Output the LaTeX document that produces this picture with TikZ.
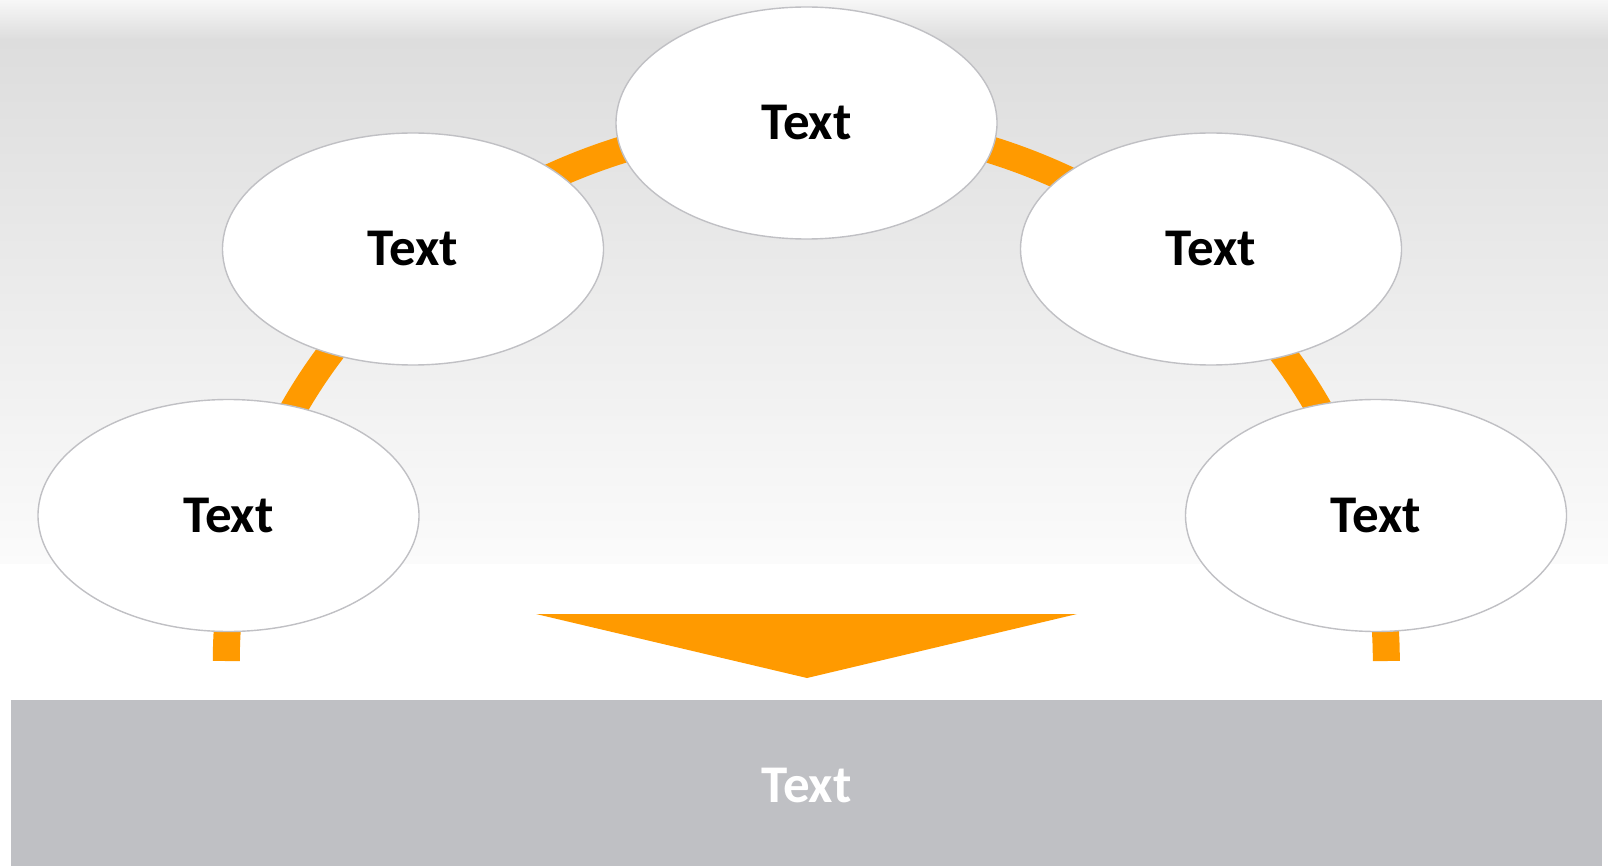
\documentclass[tikz,border=0pt]{standalone}
\usepackage{fontspec}
\setmainfont{Carlito}
\usetikzlibrary{shapes.geometric}
\definecolor{arcorange}{RGB}{255,154,0}
\definecolor{bargrey}{RGB}{191,192,196}
\definecolor{bgtop}{RGB}{247,247,247}
\definecolor{bgmid}{RGB}{221,221,221}
\definecolor{bgbot}{RGB}{251,251,251}
\definecolor{rimgrey}{RGB}{192,192,196}
\tikzset{
  bubble/.style={ellipse, draw=rimgrey, line width=1.4pt, fill=white,
    minimum width=381pt, minimum height=232pt, inner sep=0pt,
    font=\fontsize{53}{62}\selectfont\bfseries, text=black},
  bandtext/.style={font=\fontsize{53}{62}\selectfont\bfseries, text=white},
  arcband/.style={draw=arcorange, line width=27pt, line cap=butt}
}
\begin{document}
\begin{tikzpicture}[x=1pt,y=1pt]
\useasboundingbox (0,0) rectangle (1608,-866);
% background gradient
\shade[top color=bgtop, bottom color=bgmid] (0,0) rectangle (1608,-40);
\shade[top color=bgmid, bottom color=bgbot] (0,-40) rectangle (1608,-564);
\fill[white] (0,-564) rectangle (1608,-866);
% orange arc
\coordinate (arcL) at (226.3,-661);
\draw[arcband] (arcL) arc[start angle=180, end angle=0, x radius=580pt, y radius=539pt] coordinate (arcR);
% ellipses
\node[bubble] (top) at (806.5,-123) {Text};
\node[bubble] (lm) at (413,-249) {Text};
\node[bubble] (rm) at (1211,-249) {Text};
\node[bubble] (lb) at (228.5,-515.5) {Text};
\node[bubble] (rb) at (1376,-515.5) {Text};
% arrow triangle
\fill[arcorange] (536,-614) -- (1077,-614) -- (807,-678) -- cycle;
% bottom bar
\fill[bargrey] (11,-700) rectangle (1602,-866);
\node[bandtext] (bar) at (806.5,-786) {Text};
\end{tikzpicture}
\end{document}
